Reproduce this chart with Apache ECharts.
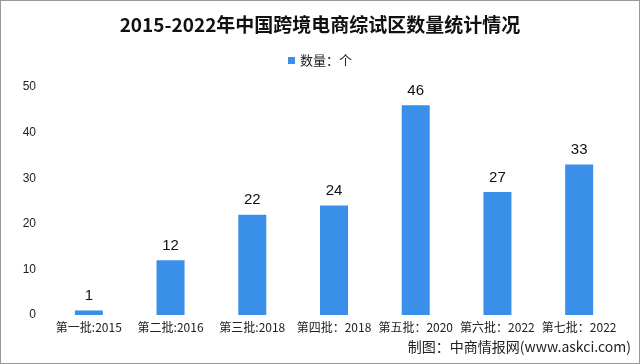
<!DOCTYPE html>
<html><head><meta charset="utf-8">
<script src="https://cdn.jsdelivr.net/npm/echarts@6/dist/echarts.min.js"></script>
<style>html,body{margin:0;padding:0;background:#fff}#c{width:638px;height:362px;border:1px solid #999;}</style>
</head><body><div id="c"></div>
<script>
const categories = ['第一批:2015','第二批:2016','第三批:2018','第四批：2018','第五批：2020','第六批：2022','第七批：2022'];
const values = [1, 12, 22, 24, 46, 27, 33];
const seriesName = '数量：个';
const titleText = '2015-2022年中国跨境电商综试区数量统计情况';
const sourceText = '制图：中商情报网(www.askci.com)';

const chart = echarts.init(document.getElementById('c'));
chart.setOption({
  animation: false,
  title: { text: titleText, left: 'center', top: 9,
    textStyle: { fontFamily: 'Noto Sans CJK SC', fontWeight: 'bold', fontSize: 19, color: '#111' } },
  legend: { top: 48, left: 'center', itemWidth: 7, itemHeight: 7, itemGap: 4, icon: 'rect',
    textStyle: { fontFamily: 'Noto Sans CJK SC', fontSize: 13, color: '#222' } },
  graphic: [{ type: 'text', right: 8, top: 339,
    style: { text: sourceText, fontFamily: 'Noto Sans CJK SC', fontSize: 14, fill: '#222' } }],
  grid: { left: 47, right: 19, top: 86, bottom: 48 },
  xAxis: { type: 'category', data: categories,
    axisLine: { show: false }, axisTick: { show: false },
    axisLabel: { interval: 0, fontFamily: 'Noto Sans CJK SC', fontSize: 12, color: '#222', margin: 6 } },
  yAxis: { type: 'value', min: 0, max: 50, interval: 10,
    splitLine: { show: false }, axisLine: { show: false }, axisTick: { show: false },
    axisLabel: { fontFamily: 'Arial', fontSize: 12, color: '#222', margin: 12 } },
  series: [{ name: seriesName, type: 'bar', data: values, barWidth: 28,
    itemStyle: { color: '#3a90e8' },
    label: { show: true, position: 'top', fontFamily: 'Arial', fontSize: 15, color: '#111', distance: 7 } }]
});
</script></body></html>
